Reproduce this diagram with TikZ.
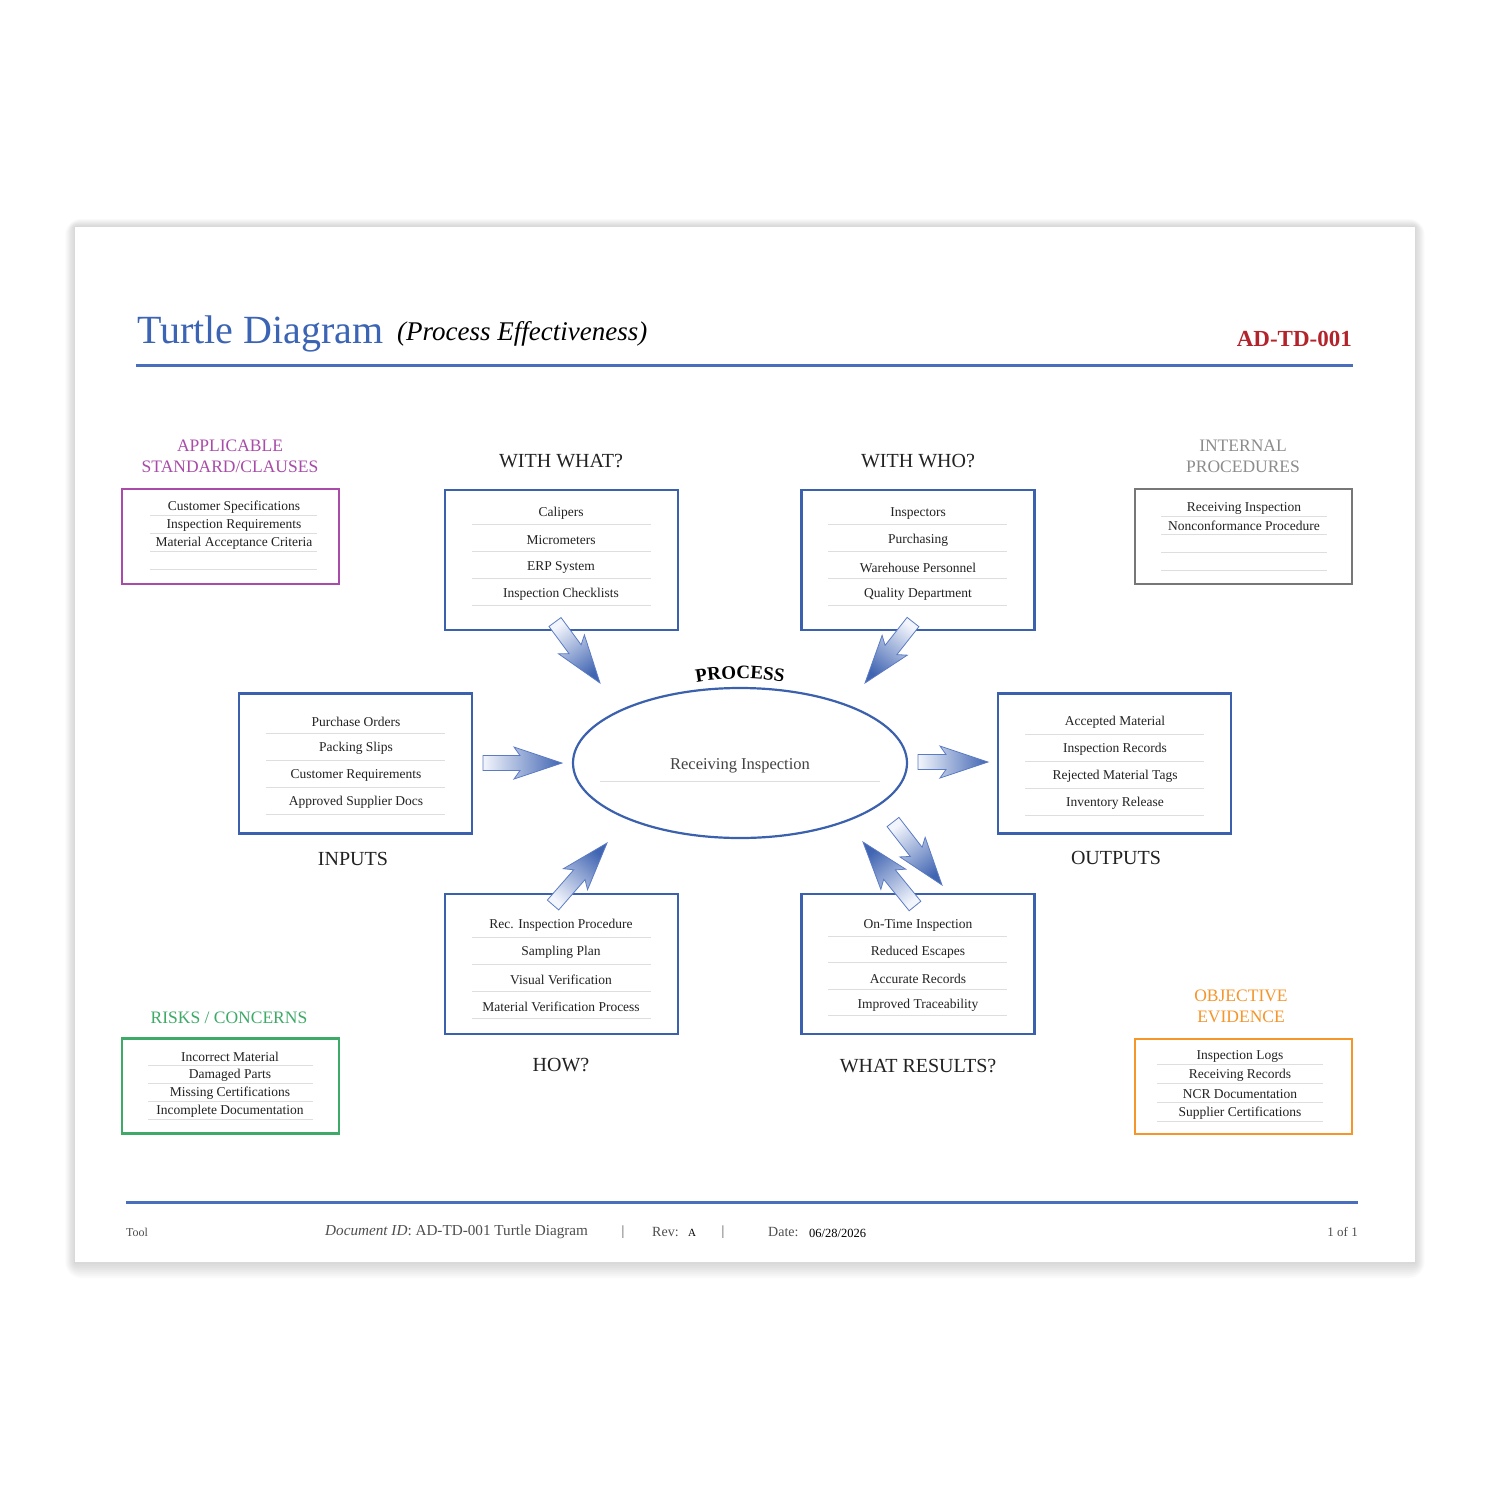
\documentclass[tikz,border=0pt]{standalone}
\usepackage{fontspec}
\setmainfont{Liberation Serif}
\usepackage{xcolor}
\usetikzlibrary{calc,shapes.geometric,decorations.text}

\definecolor{titleblue}{HTML}{3C64B4}
\definecolor{ruleblue}{HTML}{4A6EBE}
\definecolor{boxblue}{HTML}{3A60AE}
\definecolor{arrowblue}{HTML}{4165B2}
\definecolor{arrowpale}{HTML}{F2F5FC}
\definecolor{arrowline}{HTML}{5B7CC4}
\definecolor{stdpurple}{HTML}{A94CA9}
\definecolor{procgray}{HTML}{777777}
\definecolor{headgray}{HTML}{8C8C8C}
\definecolor{riskgreen}{HTML}{3DAA68}
\definecolor{evidorange}{HTML}{F5952A}
\definecolor{docred}{HTML}{B3232B}
\definecolor{inktext}{HTML}{222222}
\definecolor{rowgray}{HTML}{DEDEDE}

\newcommand{\itemfont}{\fontsize{13.5}{15}\selectfont}
\newcommand{\headfont}{\fontsize{20}{22}\selectfont}
\newcommand{\cornerfont}{\fontsize{17.5}{21}\selectfont}
\newcommand{\processfont}{\fontsize{19}{21}\selectfont\bfseries}

\tikzset{
  bluebox/.style={draw=boxblue, line width=2.5pt, minimum width=233, minimum height=140, inner sep=0},
  cornerbox/.style={line width=2.5pt, minimum width=217, minimum height=95, inner sep=0},
  itemtext/.style={font=\itemfont, text=inktext, inner sep=0},
  rowline/.style={draw=rowgray, line width=1pt},
  sectionhead/.style={font=\headfont, text=inktext, inner sep=0},
  cornerhead/.style={font=\cornerfont, align=center, inner sep=0},
  arrowshade/.style={draw=arrowline, line width=0.8pt, bottom color=arrowpale, top color=arrowblue},
  footnote/.style={font=\fontsize{14}{16}\selectfont, text=inktext!80, inner sep=0}
}

% block arrow from tail coordinate to head coordinate
\makeatletter
\newcommand{\blockarrow}[2]{%
  \pgfmathanglebetweenpoints{\pgfpointanchor{#1}{center}}{\pgfpointanchor{#2}{center}}%
  \let\arrang\pgfmathresult
  \pgfpointdiff{\pgfpointanchor{#1}{center}}{\pgfpointanchor{#2}{center}}%
  \edef\arrdx{\the\pgf@x}\edef\arrdy{\the\pgf@y}%
  \pgfmathveclen{\arrdx}{\arrdy}%
  \let\arrlen\pgfmathresult
  \pgfmathsetmacro\arrshd{\arrang-90}%
  \shade[arrowshade, shading angle=\arrshd, shift={(#1)}, rotate=\arrang]
    (0pt,-7.5pt) -- (\arrlen pt-42pt,-7.5pt) -- (\arrlen pt-48pt,-16pt) -- (\arrlen pt,0pt)
    -- (\arrlen pt-48pt,16pt) -- (\arrlen pt-42pt,7.5pt) -- (0pt,7.5pt) -- cycle;
}
\makeatother

\begin{document}
\begin{tikzpicture}[x=1pt, y=-1pt]
\useasboundingbox (0,0) rectangle (1500,1500);

% page with soft shadow
\foreach \s in {2,4,...,16}
  \fill[black, opacity=0.02, rounded corners=\s] (75-\s*0.6, 227-\s*0.5) rectangle (1415+\s*0.6, 1262+\s);
\fill[white] (75,227) rectangle (1415,1262);

% header
\node[anchor=base west, inner sep=0, text=titleblue, font=\fontsize{40}{44}\selectfont] (title) at (137,343) {Turtle Diagram};
\node[anchor=base west, inner sep=0, text=black, font=\fontsize{27}{30}\selectfont\itshape] (subtitle) at (397,340) {(Process Effectiveness)};
\node[anchor=base east, inner sep=0, text=docred, font=\fontsize{23}{26}\selectfont\bfseries] (docid) at (1352,346) {AD-TD-001};
\draw[ruleblue, line width=3pt] (136,365) -- (1353,365);

% applicable standard
\node[cornerhead, text=stdpurple] (stdhead) at (230,456.5) {APPLICABLE\\STANDARD/CLAUSES};
\node[cornerbox, draw=stdpurple] (std) at (230.5,536.5) {};
\foreach \txt [count=\i from 0] in {Customer Specifications, Inspection Requirements, Material Acceptance Criteria}
  \node[itemtext] (std-\i) at (234, 507+18*\i) {\txt};
\foreach \i in {0,...,3}
  \draw[rowline] (150, 515+18*\i) -- (317, 515+18*\i);

% internal procedures
\node[cornerhead, text=headgray] (prochead) at (1243,456.5) {INTERNAL\\PROCEDURES};
\node[cornerbox, draw=procgray] (procs) at (1243.5,536.5) {};
\foreach \txt [count=\i from 0] in {Receiving Inspection, Nonconformance Procedure}
  \node[itemtext] (procs-\i) at (1244, 508+18*\i) {\txt};
\foreach \i in {0,...,3}
  \draw[rowline] (1161, 516+18*\i) -- (1327, 516+18*\i);

% risks
\node[cornerhead, text=riskgreen] (riskhead) at (229,1018) {RISKS / CONCERNS};
\node[cornerbox, draw=riskgreen] (risk) at (230.5,1086) {};
\foreach \txt [count=\i from 0] in {Incorrect Material, Damaged Parts, Missing Certifications, Incomplete Documentation}
  \node[itemtext] (risk-\i) at (230, 1057+18*\i) {\txt};
\foreach \i in {0,...,3}
  \draw[rowline] (148, 1065+18*\i) -- (313, 1065+18*\i);

% objective evidence
\node[cornerhead, text=evidorange] (evidhead) at (1241,1006.5) {OBJECTIVE\\EVIDENCE};
\node[cornerbox, draw=evidorange] (evid) at (1243.5,1086.5) {};
\foreach \txt [count=\i from 0] in {Inspection Logs, Receiving Records, NCR Documentation, Supplier Certifications}
  \node[itemtext] (evid-\i) at (1240, 1056+19*\i) {\txt};
\foreach \i in {0,...,3}
  \draw[rowline] (1157, 1064+19*\i) -- (1323, 1064+19*\i);

% with what
\node[sectionhead] (whathead) at (561,461) {WITH WHAT?};
\node[bluebox] (what) at (561.5,560) {};
\foreach \txt [count=\i from 0] in {Calipers, Micrometers, ERP System, Inspection Checklists} {
  \node[itemtext] (what-\i) at (561, 513.5+27*\i) {\txt};
  \draw[rowline] (472, 524+27*\i) -- (651, 524+27*\i);
}

% with who
\node[sectionhead] (whohead) at (918,461) {WITH WHO?};
\node[bluebox] (who) at (918,560) {};
\foreach \txt [count=\i from 0] in {Inspectors, Purchasing, Warehouse Personnel, Quality Department} {
  \node[itemtext] (who-\i) at (918, 513.5+27*\i) {\txt};
  \draw[rowline] (828, 524+27*\i) -- (1007, 524+27*\i);
}

% inputs
\node[bluebox] (inputs) at (355.5,763.5) {};
\node[sectionhead] (inhead) at (353,859) {INPUTS};
\foreach \txt [count=\i from 0] in {Purchase Orders, Packing Slips, Customer Requirements, Approved Supplier Docs} {
  \node[itemtext] (in-\i) at (356, 721.5+27*\i) {\txt};
  \draw[rowline] (266, 733+27*\i) -- (445, 733+27*\i);
}

% outputs
\node[bluebox] (outputs) at (1114.5,763.5) {};
\node[sectionhead] (outhead) at (1116,858) {OUTPUTS};
\foreach \txt [count=\i from 0] in {Accepted Material, Inspection Records, Rejected Material Tags, Inventory Release} {
  \node[itemtext] (out-\i) at (1115, 722.5+27*\i) {\txt};
  \draw[rowline] (1025, 734+27*\i) -- (1204, 734+27*\i);
}

% how
\node[bluebox] (how) at (561.5,964) {};
\node[sectionhead] (howhead) at (561,1065) {HOW?};
\foreach \txt [count=\i from 0] in {Rec. Inspection Procedure, Sampling Plan, Visual Verification, Material Verification Process} {
  \node[itemtext] (how-\i) at (561, 925.5+27*\i) {\txt};
  \draw[rowline] (472, 937+27*\i) -- (651, 937+27*\i);
}

% what results
\node[bluebox] (res) at (918,964) {};
\node[sectionhead] (reshead) at (918,1066) {WHAT RESULTS?};
\foreach \txt [count=\i from 0] in {On-Time Inspection, Reduced Escapes, Accurate Records, Improved Traceability} {
  \node[itemtext] (res-\i) at (918, 925.5+26.5*\i) {\txt};
  \draw[rowline] (828, 936+26.5*\i) -- (1007, 936+26.5*\i);
}

% process
\node[draw=boxblue, line width=2.2pt, ellipse, minimum width=334, minimum height=150, inner sep=0] (proc) at (740,763) {};
\node[inner sep=0, text=inktext!85, font=\fontsize{16.5}{18}\selectfont] (proctext) at (740,766) {Receiving Inspection};
\draw[rowline] (600,781) -- (880,781);
\path[decorate, decoration={text along path, text={|\processfont|PROCESS}, text align=center}]
  (680,686) .. controls (715,676) and (765,676) .. (800,686);

% arrows
\coordinate (ww-t) at (555,622);  \coordinate (ww-h) at (600,683);
\coordinate (wo-t) at (913,622);  \coordinate (wo-h) at (865,683);
\coordinate (in-t) at (483,763);  \coordinate (in-h) at (562,763);
\coordinate (out-t) at (918,762); \coordinate (out-h) at (988,762);
\coordinate (how-t) at (553,905); \coordinate (how-h) at (607,843);
\coordinate (res-t) at (893,822); \coordinate (res-h) at (942,885);
\coordinate (back-t) at (915,906); \coordinate (back-h) at (863,842);
\blockarrow{ww-t}{ww-h}
\blockarrow{wo-t}{wo-h}
\blockarrow{in-t}{in-h}
\blockarrow{out-t}{out-h}
\blockarrow{how-t}{how-h}
\blockarrow{res-t}{res-h}
\blockarrow{back-t}{back-h}

% footer
\draw[ruleblue, line width=3pt] (126,1202) -- (1358,1202);
\node[footnote, anchor=west, font=\fontsize{12}{14}\selectfont] (tool) at (126,1232) {Tool};
\node[footnote, anchor=west, font=\fontsize{15.2}{17}\selectfont] (docref) at (325,1232) {\textit{Document ID}: AD-TD-001 Turtle Diagram};
\node[footnote] (bar1) at (623,1232) {|};
\node[footnote, anchor=west] (rev) at (652,1232) {Rev:};
\node[footnote, anchor=west, font=\fontsize{11}{13}\selectfont, text=black] (revval) at (688,1233) {A};
\node[footnote] (bar2) at (723,1232) {|};
\node[footnote, anchor=west] (date) at (768,1232) {Date:};
\node[footnote, anchor=west, font=\fontsize{12.5}{14}\selectfont, text=black] (dateval) at (809,1233) {06/28/2026};
\node[footnote, anchor=east, font=\fontsize{13}{15}\selectfont] (pages) at (1358,1232) {1 of 1};
\end{tikzpicture}
\end{document}
